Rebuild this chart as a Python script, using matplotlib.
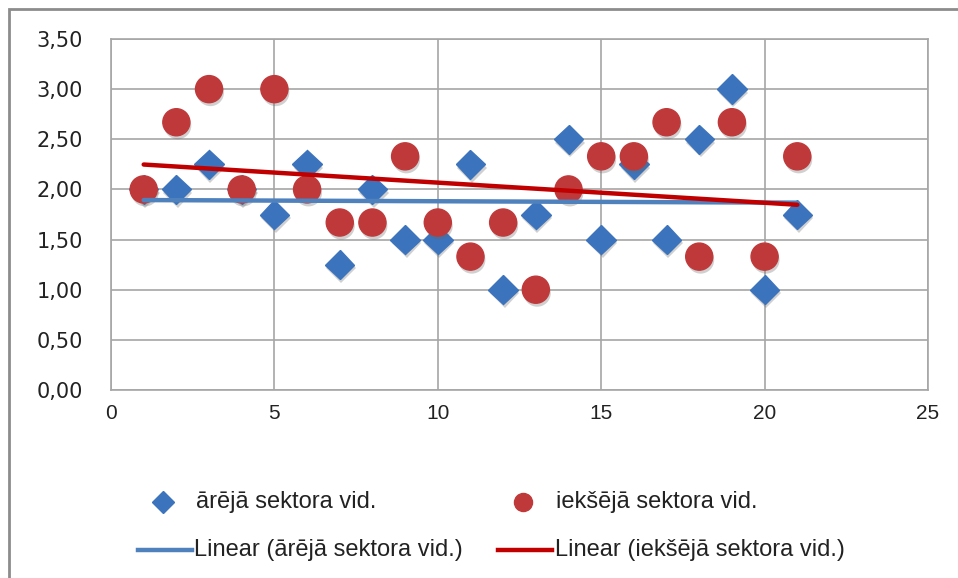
import numpy as np
import matplotlib
matplotlib.use("Agg")
import matplotlib.pyplot as plt
import matplotlib.patheffects as pe
from matplotlib.lines import Line2D
from matplotlib.patches import Rectangle
from matplotlib.ticker import FuncFormatter

# === Data ===
x_vals = list(range(1, 22))
outer_avg = [2.00, 2.00, 2.25, 2.00, 1.75, 2.25, 1.25, 2.00, 1.50, 1.50, 2.25,
             1.00, 1.75, 2.50, 1.50, 2.25, 1.50, 2.50, 3.00, 1.00, 1.75]
inner_avg = [2.00, 2.67, 3.00, 2.00, 3.00, 2.00, 1.67, 1.67, 2.33, 1.67, 1.33,
             1.67, 1.00, 2.00, 2.33, 2.33, 2.67, 1.33, 2.67, 1.33, 2.33]
labels = ["ārējā sektora vid.", "iekšējā sektora vid.",
          "Linear (ārējā sektora vid.)", "Linear (iekšējā sektora vid.)"]
x_ticks = [0, 5, 10, 15, 20, 25]
y_ticks = [0, 0.5, 1.0, 1.5, 2.0, 2.5, 3.0, 3.5]

BLUE_PT, RED_PT = '#3b73bd', '#c0393a'
BLUE_LN, RED_LN = '#4f81bd', '#c00000'
W, H = 958, 578

fig = plt.figure(figsize=(W / 100, H / 100), dpi=100)
ax = fig.add_axes([111 / W, 1 - 390 / H, (928 - 111) / W, (390 - 39) / H])

# outer chart frame (top/left visible, rest cut off)
fig.patches.append(Rectangle((9 / W, -0.1), 1.2, 1 - 9 / H + 0.1, transform=fig.transFigure,
                             fill=False, edgecolor='#8c8c8c', linewidth=2))

shadow = [pe.SimplePatchShadow(offset=(1, -2.5), alpha=0.3, shadow_rgbFace='#666666'), pe.Normal()]

ax.plot(x_vals, outer_avg, linestyle='none', marker='D', markersize=15,
        markerfacecolor=BLUE_PT, markeredgecolor=BLUE_PT, zorder=3, path_effects=shadow)
ax.plot(x_vals, inner_avg, linestyle='none', marker='o', markersize=19.5,
        markerfacecolor=RED_PT, markeredgecolor=RED_PT, zorder=4, path_effects=shadow)

# === Linear trend lines ===
xs = np.array(x_vals, dtype=float)
k1, b1 = np.polyfit(xs, outer_avg, 1)
k2, b2 = np.polyfit(xs, inner_avg, 1)
ends = np.array([xs.min(), xs.max()])
ax.plot(ends, k1 * ends + b1, color=BLUE_LN, linewidth=3.2, zorder=5, solid_capstyle='round')
ax.plot(ends, k2 * ends + b2, color=RED_LN, linewidth=3.2, zorder=6, solid_capstyle='round')

ax.set_xlim(0, 25)
ax.set_ylim(0, 3.5)
ax.set_xticks(x_ticks)
ax.set_yticks(y_ticks)
ax.yaxis.set_major_formatter(FuncFormatter(lambda v, p: f"{v:.2f}".replace('.', ',')))
ax.grid(True, color='#a6a6a6', linewidth=1.2)
ax.set_axisbelow(True)
for s in ax.spines.values():
    s.set_color('#a6a6a6')
    s.set_linewidth(1.2)
ax.tick_params(length=0, colors='#222222')
ax.tick_params(axis='y', labelsize=15, pad=20)
ax.tick_params(axis='x', labelsize=15, pad=10, labelfontfamily='Liberation Sans')

# === Legend below the plot (placed by hand to match the two-row layout) ===
def fx(px):
    return px / W


def fy(py):
    return 1 - py / H


leg_font = {'family': 'Liberation Sans', 'size': 17, 'color': '#222222'}
fig.add_artist(Line2D([fx(163)], [fy(502)], linestyle='none', marker='D', markersize=11,
                      markerfacecolor=BLUE_PT, markeredgecolor=BLUE_PT, transform=fig.transFigure))
fig.text(fx(196), fy(502), labels[0], va='center', ha='left', **leg_font)
fig.add_artist(Line2D([fx(523)], [fy(502)], linestyle='none', marker='o', markersize=13,
                      markerfacecolor=RED_PT, markeredgecolor=RED_PT, transform=fig.transFigure))
fig.text(fx(556), fy(502), labels[1], va='center', ha='left', **leg_font)
fig.add_artist(Line2D([fx(138), fx(192)], [fy(550), fy(550)], color=BLUE_LN, linewidth=3.2,
                      transform=fig.transFigure))
fig.text(fx(194), fy(550), labels[2], va='center', ha='left', **leg_font)
fig.add_artist(Line2D([fx(498), fx(552)], [fy(550), fy(550)], color=RED_LN, linewidth=3.2,
                      transform=fig.transFigure))
fig.text(fx(555), fy(550), labels[3], va='center', ha='left', **leg_font)

fig.savefig('out.png', dpi=100)
